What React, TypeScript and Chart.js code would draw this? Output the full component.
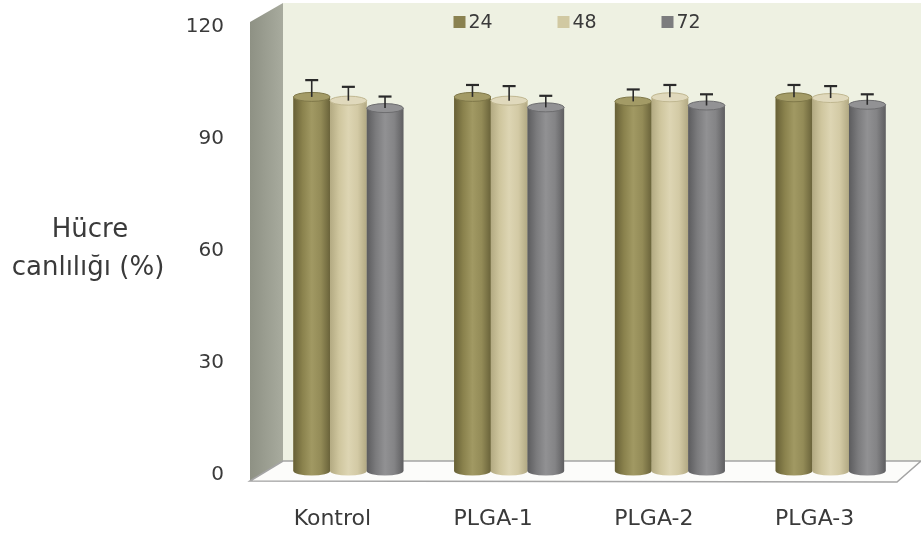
import React, { useEffect, useRef } from "react";
import { Chart, registerables } from "chart.js";

Chart.register(...registerables);

// ---- data ----
const categories = ["Kontrol", "PLGA-1", "PLGA-2", "PLGA-3"];
const seriesLabels = ["24", "48", "72"];
const values24 = [100.2, 100.2, 99.0, 100.1];
const values48 = [99.2, 99.2, 100.1, 99.9];
const values72 = [97.2, 97.4, 97.9, 98.1];
const errors24 = [4.5, 3.2, 3.2, 3.3];
const errors48 = [3.7, 3.9, 3.3, 3.2];
const errors72 = [3.1, 3.1, 3.0, 2.8];
const yMin = 0;
const yMax = 120;
const yStep = 30;
const axisTitleLines = ["Hücre", "canlılığı (%)"];

const seriesValues = [values24, values48, values72];
const seriesErrors = [errors24, errors48, errors72];

const palettes = [
  { legend: "#8a8250", stops: ["#676036", "#8a824d", "#a19963", "#938b57", "#6a633a"], cap: "#a39b66", capEdge: "#7f7849" },
  { legend: "#d1c9a2", stops: ["#b3aa82", "#cfc69e", "#ddd5b3", "#d3caa5", "#b2a983"], cap: "#e0d9bc", capEdge: "#c0b790" },
  { legend: "#7c7c7e", stops: ["#5c5c5e", "#7b7b7d", "#919193", "#848486", "#5f5f61"], cap: "#929294", capEdge: "#6d6d6f" },
];

const FONT = "'DejaVu Sans', sans-serif";
const TEXT = "#3a3a3a";

const scenePlugin = {
  id: "scene3d",
  beforeDraw(chart: any) {
    const { ctx, chartArea: ca, scales } = chart;
    const ys = scales.y;
    const y0 = ys.getPixelForValue(yMin);
    const yT = ys.getPixelForValue(yMax);
    const W = chart.width;
    const fl = ca.left - 18;
    const bl = ca.left + 15;
    const frontB = y0 + 10;
    const backB = y0 - 10;
    const frontT = yT - 1;
    const backT = yT - 20;
    ctx.save();
    // back wall
    ctx.fillStyle = "#eef1e2";
    ctx.fillRect(bl, backT, W - bl, backB - backT);
    // side wall
    const sg = ctx.createLinearGradient(fl, 0, bl, 0);
    sg.addColorStop(0, "#8e9184");
    sg.addColorStop(1, "#a8ab9e");
    ctx.fillStyle = sg;
    ctx.beginPath();
    ctx.moveTo(fl, frontB);
    ctx.lineTo(fl, frontT);
    ctx.lineTo(bl, backT);
    ctx.lineTo(bl, backB);
    ctx.closePath();
    ctx.fill();
    // floor
    ctx.fillStyle = "#fcfcfa";
    ctx.strokeStyle = "#a4a4a4";
    ctx.lineWidth = 1.5;
    ctx.beginPath();
    ctx.moveTo(fl, frontB);
    ctx.lineTo(bl, backB);
    ctx.lineTo(W, backB);
    ctx.lineTo(W - 24, frontB + 1);
    ctx.closePath();
    ctx.fill();
    ctx.stroke();
    ctx.restore();
  },
  afterDatasetsDraw(chart: any) {
    const { ctx, scales } = chart;
    const ys = scales.y;
    ctx.save();
    const tops: any[] = [];
    chart.data.datasets.forEach((ds: any, di: number) => {
      const meta = chart.getDatasetMeta(di);
      const pal = palettes[di];
      meta.data.forEach((bar: any, i: number) => {
        const { x, y, base, width } = bar.getProps(["x", "y", "base", "width"], true);
        const l = x - width / 2;
        const r = x + width / 2;
        const rx = width / 2;
        const ry = 4.5;
        const g = ctx.createLinearGradient(l, 0, r, 0);
        const n = pal.stops.length;
        pal.stops.forEach((c: string, k: number) => g.addColorStop(k / (n - 1), c));
        ctx.fillStyle = g;
        ctx.beginPath();
        ctx.moveTo(l, y);
        ctx.lineTo(l, base);
        ctx.ellipse(x, base, rx, ry, 0, Math.PI, 0, true);
        ctx.lineTo(r, y);
        ctx.closePath();
        ctx.fill();
        ctx.beginPath();
        ctx.ellipse(x, y, rx, ry, 0, 0, Math.PI * 2);
        ctx.fillStyle = pal.cap;
        ctx.fill();
        ctx.strokeStyle = pal.capEdge;
        ctx.lineWidth = 1;
        ctx.stroke();
        const err = ds.errors[i];
        tops.push({ x, y, ey: ys.getPixelForValue(ds.data[i] + err) });
      });
    });
    ctx.strokeStyle = "#2a2a2a";
    tops.forEach((t) => {
      ctx.lineWidth = 1.6;
      ctx.beginPath();
      ctx.moveTo(t.x, t.y);
      ctx.lineTo(t.x, t.ey);
      ctx.stroke();
      ctx.lineWidth = 2.2;
      ctx.beginPath();
      ctx.moveTo(t.x - 6.5, t.ey);
      ctx.lineTo(t.x + 6.5, t.ey);
      ctx.stroke();
    });
    ctx.restore();
  },
  afterDraw(chart: any) {
    const { ctx, chartArea: ca, scales } = chart;
    const ys = scales.y;
    ctx.save();
    // axis title (horizontal, two lines)
    ctx.fillStyle = TEXT;
    ctx.font = `26px ${FONT}`;
    ctx.textAlign = "center";
    ctx.textBaseline = "middle";
    const yMid = ys.getPixelForValue((yMin + yMax) / 2);
    ctx.fillText(axisTitleLines[0], ca.left - 178, yMid - 17);
    ctx.fillText(axisTitleLines[1], ca.left - 180, yMid + 21);
    // legend
    ctx.font = `19px ${FONT}`;
    ctx.textAlign = "left";
    const cx = (ca.left + ca.right) / 2;
    let lx = cx - 136;
    const ly = ys.getPixelForValue(yMax) - 1;
    chart.data.datasets.forEach((ds: any, di: number) => {
      ctx.fillStyle = palettes[di].legend;
      ctx.fillRect(lx, ly - 6, 12, 12);
      ctx.fillStyle = TEXT;
      ctx.fillText(ds.label, lx + 15, ly + 1);
      lx += 104;
    });
    ctx.restore();
  },
};

export default function App() {
  const canvasRef = useRef<HTMLCanvasElement | null>(null);

  useEffect(() => {
    if (!canvasRef.current) return;
    const chart = new Chart(canvasRef.current, {
      type: "bar",
      data: {
        labels: categories,
        datasets: seriesValues.map((v, i) => ({
          label: seriesLabels[i],
          data: v,
          errors: seriesErrors[i],
          backgroundColor: palettes[i].legend,
          borderWidth: 0,
          barPercentage: 1,
          categoryPercentage: 0.684,
        })) as any,
      },
      options: {
        animation: false,
        responsive: true,
        maintainAspectRatio: false,
        layout: { padding: { top: 23, right: 10, left: 0, bottom: 0 } },
        plugins: { legend: { display: false }, tooltip: { enabled: false } },
        scales: {
          x: {
            grid: { display: false, drawTicks: false },
            border: { display: false },
            ticks: {
              font: { family: FONT, size: 22 },
              color: TEXT,
              padding: 35,
              labelOffset: -16,
              maxRotation: 0,
            },
            afterFit(s: any) {
              s.height = 62;
            },
          },
          y: {
            min: yMin,
            max: yMax,
            grid: { display: false, drawTicks: true, tickLength: 42 },
            border: { display: false },
            ticks: {
              stepSize: yStep,
              font: { family: FONT, size: 20 },
              color: TEXT,
              padding: 2,
              labelOffset: 4,
            },
            afterFit(s: any) {
              s.width = 268;
            },
          },
        },
      } as any,
      plugins: [scenePlugin],
    });
    return () => chart.destroy();
  }, []);

  return (
    <div style={{ position: "fixed", left: 0, top: 0, width: 921, height: 533, background: "#ffffff" }}>
      <canvas ref={canvasRef} />
    </div>
  );
}
